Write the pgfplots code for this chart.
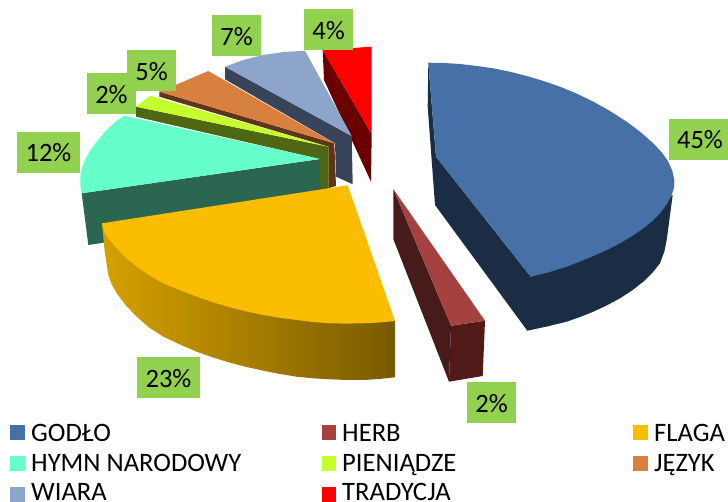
\documentclass[border=0pt]{standalone}
\usepackage{pgfplots}
\pgfplotsset{compat=1.18}
\usepackage{fontspec}
\setmainfont{Carlito}
\definecolor{cGod}{HTML}{4670A6}
\definecolor{cGodD}{HTML}{1B2D45}
\definecolor{cHerb}{HTML}{A5423F}
\definecolor{cHerbD}{HTML}{471B1A}
\definecolor{cHerbF}{HTML}{501A18}
\definecolor{cFlag}{HTML}{FBBD00}
\definecolor{cHym}{HTML}{66FFCC}
\definecolor{cHymD}{HTML}{2A6650}
\definecolor{cPie}{HTML}{C6FF2E}
\definecolor{cPieD}{HTML}{4F6613}
\definecolor{cJez}{HTML}{D88040}
\definecolor{cJezD}{HTML}{5E3617}
\definecolor{cWia}{HTML}{8EA5CB}
\definecolor{cWiaD}{HTML}{38445A}
\definecolor{cTra}{HTML}{FF0000}
\definecolor{cTraD}{HTML}{6B0000}
\definecolor{cLab}{HTML}{92D050}
\newcommand{\lab}[3]{\node[font=\fontsize{26.5}{28}\selectfont,text=black,inner sep=0pt] at (axis cs:#1,#2) {#3};}
\newcommand{\leg}[3]{\node[font=\fontsize{26.6}{28}\selectfont,text=black,inner sep=0pt,anchor=base west] at (axis cs:#1,#2) {#3};}
\begin{document}
\begin{tikzpicture}
\useasboundingbox (0,0) rectangle (728pt,502pt);
\begin{axis}[at={(0,0)},anchor=south west,x=1pt,y=1pt,xmin=0,xmax=728,ymin=0,ymax=502,y dir=reverse,hide axis,clip=false,
  every axis plot/.style={draw=none,mark=none,line width=0pt}]
% TRADYCJA
\addplot[fill=cTraD] coordinates {(322.7,50)(371.7,134)(371,181.7)(324,80)} --cycle;
\addplot[fill=cTra] coordinates {(322.7,50)(371.7,46.7)(371.7,134)} --cycle;
% WIARA
\addplot[fill=cWiaD] coordinates {(225,66.7)(225,79.3)(335,143.3)(336,176.7)(352.7,184.3)(351.7,136)} --cycle;
\addplot[fill=cWia] coordinates {(351.7,136)(225,66.7)(243,60)(263.3,55)(284,52)(305,50.7)} --cycle;
% JEZYK
\addplot[fill=cJezD] coordinates {(159.3,91.7)(159.3,96.7)(328.3,146.7)(328.3,188.3)(336,186)(334.3,143.3)} --cycle;
\addplot[fill=cJez] coordinates {(334.3,143.3)(159.3,91.7)(183.3,81.7)(208.3,71)} --cycle;
% PIENIADZE
\addplot[fill=cPieD] coordinates {(136,106.7)(136,116.7)(320,159)(320,190)(328.3,189)(328.3,146.7)} --cycle;
\addplot[fill=cPie] coordinates {(328.3,146.7)(136,106.7)(150,95.7)} --cycle;
% HYMN
\addplot[fill=cHymD] coordinates {(81.7,193.3)(88.3,245)(320,210)(320,159)} --cycle;
\addplot[fill=cHym] coordinates {(320,159)(81.7,193.3)(80.3,185)(80.3,176.7)(81.8,168)(85,160)(90,150.5)(96.7,141.7)(103,134)(110,126.7)(116.7,120.8)(124,115.7)} --cycle;
% FLAGA
\addplot[left color=cFlag!85!black,right color=cFlag!48!black] coordinates {(395,377.3)(379,379)(363.3,380)(346.6,380)(330,379.3)(313,378.3)(296.7,376.7)(280,374)(263.3,370.7)(246.6,367)(230,362.7)(213,357.5)(196.7,351.7)(180,344.5)(163.3,336.7)(149,327.5)(136.7,316.7)(125.5,305)(116.7,293.3)(111.5,284)(108.3,275)(104.5,250)(102,223.3)(395,321)} --cycle;
\addplot[fill=cFlag] coordinates {(347.7,185.3)(395,321)(379,322.5)(363.3,323.3)(346.6,323.6)(330,323.3)(313,322)(296.7,320)(280,317.8)(263.3,315)(246.6,311.5)(230,307.3)(213,302.3)(196.7,296.7)(180,290.2)(163.3,283.3)(149.5,275.5)(136.7,266.7)(125.5,257.5)(116.7,248.3)(110,240.5)(105,233.3)(103,228)(102,223.3)} --cycle;
% HERB
\addplot[fill=cHerbD] coordinates {(393.3,189)(393.3,239)(449,381.7)(451,325.7)} --cycle;
\addplot[fill=cHerbF] coordinates {(451,325.7)(485,320.7)(482.7,376)(449,381.7)} --cycle;
\addplot[fill=cHerb] coordinates {(393.3,189)(485,320.7)(451,325.7)} --cycle;
% GODLO
\addplot[fill=cGodD] coordinates {(428.3,62.7)(427.7,106.7)(435,205)(527.3,330.7)(547,326.5)(566.7,321.7)(580,317)(593.3,311.7)(607,305.3)(620,298.3)(632,290.5)(643.3,281.7)(653,272)(660,263.3)(664.5,251)(667,238)(670,215)(672.7,195)(530.7,276.7)(436,156.7)} --cycle;
\addplot[fill=cGod] coordinates {(428.3,62.7)(444,63)(460,64)(477,66)(493.3,68.3)(510,71.8)(526.7,76)(543.5,81)(560,86.7)(576.7,93.6)(593.3,101.7)(610.4,111.2)(626.7,121.7)(641.2,132.6)(653.3,143.3)(662.1,152.7)(668.3,161.7)(672.4,171.1)(674.3,180)(674.1,187.5)(671.7,195)(666.7,204.2)(660,213.3)(652.4,221)(643.3,228.3)(632.3,235.9)(620,243.3)(607,249.9)(593.3,256)(580,261.5)(566.7,266.7)(549,272.2)(530.7,276.7)(436,156.7)} --cycle;
% label boxes
\addplot[fill=cLab] coordinates {(669,119)(728,119)(728,160)(669,160)} --cycle;
\addplot[fill=cLab] coordinates {(304,9)(353,9)(353,50)(304,50)} --cycle;
\addplot[fill=cLab] coordinates {(212,15)(261,15)(261,56)(212,56)} --cycle;
\addplot[fill=cLab] coordinates {(87,73)(136,73)(136,114)(87,114)} --cycle;
\addplot[fill=cLab] coordinates {(127,50)(176,50)(176,91)(127,91)} --cycle;
\addplot[fill=cLab] coordinates {(17,132)(80,132)(80,173)(17,173)} --cycle;
\addplot[fill=cLab] coordinates {(137,357)(200,357)(200,398)(137,398)} --cycle;
\addplot[fill=cLab] coordinates {(467,382)(516,382)(516,423)(467,423)} --cycle;
\lab{700}{140}{45\%}
\lab{328.5}{31}{4\%}
\lab{236.5}{37}{7\%}
\lab{111.5}{95}{2\%}
\lab{151.5}{72}{5\%}
\lab{48.5}{153}{12\%}
\lab{168.5}{379}{23\%}
\lab{491.5}{404}{2\%}
% legend swatches
\addplot[fill=cGod] coordinates {(10,425)(25,425)(25,440)(10,440)} --cycle;
\addplot[fill=cHerb] coordinates {(322,425)(336,425)(336,440)(322,440)} --cycle;
\addplot[fill=cFlag] coordinates {(633,425)(648,425)(648,440)(633,440)} --cycle;
\addplot[fill=cHym] coordinates {(10,456)(25,456)(25,471)(10,471)} --cycle;
\addplot[fill=cPie] coordinates {(322,456)(336,456)(336,471)(322,471)} --cycle;
\addplot[fill=cJez] coordinates {(633,456)(648,456)(648,471)(633,471)} --cycle;
\addplot[fill=cWia] coordinates {(10,487)(25,487)(25,502)(10,502)} --cycle;
\addplot[fill=cTra] coordinates {(322,487)(336,487)(336,502)(322,502)} --cycle;
\leg{31}{441}{GODŁO}
\leg{342}{441}{HERB}
\leg{654}{441}{FLAGA}
\leg{31}{471}{HYMN NARODOWY}
\leg{342}{471}{PIENIĄDZE}
\leg{654}{471}{JĘZYK}
\leg{31}{500}{WIARA}
\leg{342}{500}{TRADYCJA}
\end{axis}
\end{tikzpicture}
\end{document}
